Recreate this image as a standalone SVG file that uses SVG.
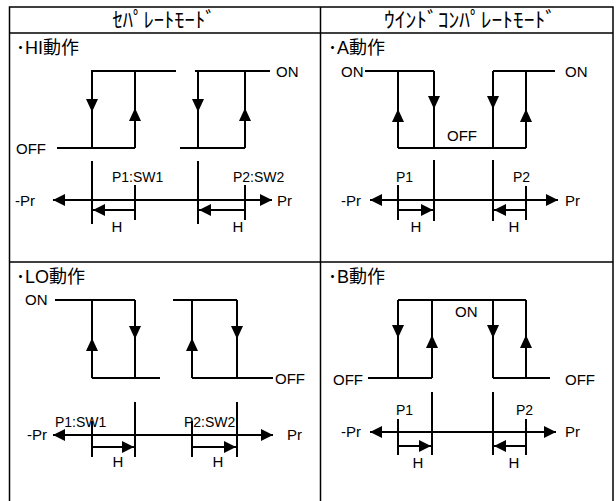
<svg xmlns="http://www.w3.org/2000/svg" xmlns:xlink="http://www.w3.org/1999/xlink" width="616" height="501" viewBox="0 0 616 501">
<style>
.bg{fill:#fff}
.tbl{fill:none;stroke:#000;stroke-width:1.5}
.ln{fill:none;stroke:#000;stroke-width:2}
.hd{font-family:"Noto Sans CJK JP",sans-serif;font-size:21px;fill:#000}
.ttl{font-family:"Liberation Sans","Noto Sans CJK JP",sans-serif;font-size:18px;fill:#000}
.lb{font-family:"Liberation Sans",Arial,sans-serif;font-size:15px;fill:#000}
.pl{font-family:"Liberation Sans",Arial,sans-serif;font-size:14px;fill:#000}
.c{text-anchor:middle}
</style>
<defs>
<marker id="ah" viewBox="0 0 12 12" refX="12" refY="6" markerWidth="12" markerHeight="12" markerUnits="userSpaceOnUse" orient="auto-start-reverse"><path d="M0,0 L12,6 L0,12 Z" fill="#000"/></marker>
<path id="dn" d="M-6,-13 L6,-13 L0,0 Z" fill="#000"/>
<path id="up" d="M-6,13 L6,13 L0,0 Z" fill="#000"/>
</defs>
<rect class="bg" x="0" y="0" width="616" height="501"/>
<g id="table">
<path class="tbl" d="M9.5,510 V7 H613 V510 M9.5,33 H613 M9.5,262 H613 M320.5,7 V510"/>
<text class="hd c" x="164" y="27" textLength="103" lengthAdjust="spacingAndGlyphs">ｾﾊﾟﾚｰﾄﾓｰﾄﾞ</text>
<text class="hd c" x="470" y="27" textLength="172" lengthAdjust="spacingAndGlyphs">ｳｲﾝﾄﾞｺﾝﾊﾟﾚｰﾄﾓｰﾄﾞ</text>
</g>
<g id="hi">
<text class="ttl" x="16" y="54">･HI動作</text>
<path class="ln" d="M91,71 H176 M92,71 V148 M135,71 V148 M57,148 H135 M195,71 H270 M198,71 V148 M245,71 V148 M180,148 H245"/>
<use xlink:href="#dn" x="92" y="112"/><use xlink:href="#up" x="135" y="108"/>
<use xlink:href="#dn" x="198" y="112"/><use xlink:href="#up" x="245" y="108"/>
<path class="ln" d="M53,200 H272" marker-start="url(#ah)" marker-end="url(#ah)"/>
<path class="ln" d="M92,161 V224 M135,185 V220 M198,161 V224 M245,185 V220"/>
<path class="ln" d="M135,210 H93" marker-end="url(#ah)"/>
<path class="ln" d="M245,210 H199" marker-end="url(#ah)"/>
<text class="lb" x="276" y="77">ON</text>
<text class="lb" x="16" y="154">OFF</text>
<text class="lb" x="15" y="206">-Pr</text>
<text class="lb" x="277" y="206">Pr</text>
<text class="pl" x="112" y="182">P1:SW1</text>
<text class="pl" x="233" y="182">P2:SW2</text>
<text class="lb c" x="117" y="232">H</text>
<text class="lb c" x="238" y="232">H</text>
</g>
<g id="a">
<text class="ttl" x="328" y="54">･A動作</text>
<path class="ln" d="M365,71 H434 M398,71 V148 M434,71 V148 M398,148 H526 M493,71 V148 M526,71 V148 M493,71 H555"/>
<use xlink:href="#up" x="398" y="109"/><use xlink:href="#dn" x="434" y="109"/>
<use xlink:href="#dn" x="493" y="109"/><use xlink:href="#up" x="526" y="109"/>
<path class="ln" d="M370,200 H558" marker-start="url(#ah)" marker-end="url(#ah)"/>
<path class="ln" d="M398,185 V220 M434,160 V221 M493,160 V221 M526,186 V220"/>
<path class="ln" d="M398,210 H433" marker-end="url(#ah)"/>
<path class="ln" d="M526,210 H494" marker-end="url(#ah)"/>
<text class="lb" x="341" y="77">ON</text>
<text class="lb" x="565" y="77">ON</text>
<text class="lb" x="447" y="141">OFF</text>
<text class="lb" x="341" y="206">-Pr</text>
<text class="lb" x="565" y="206">Pr</text>
<text class="pl" x="396" y="182">P1</text>
<text class="pl" x="513" y="182">P2</text>
<text class="lb c" x="416" y="232">H</text>
<text class="lb c" x="514" y="232">H</text>
</g>
<g id="lo">
<text class="ttl" x="16" y="283">･LO動作</text>
<path class="ln" d="M55,300 H135 M92,300 V378 M135,300 V378 M92,378 H160 M173,300 H237 M192,300 V378 M237,300 V378 M192,378 H273"/>
<use xlink:href="#up" x="92" y="338"/><use xlink:href="#dn" x="135" y="339"/>
<use xlink:href="#up" x="192" y="338"/><use xlink:href="#dn" x="237" y="339"/>
<path class="ln" d="M53,435 H273" marker-start="url(#ah)" marker-end="url(#ah)"/>
<path class="ln" d="M92,421 V457 M135,402 V457 M192,421 V457 M237,402 V457"/>
<path class="ln" d="M92,447 H134" marker-end="url(#ah)"/>
<path class="ln" d="M192,447 H236" marker-end="url(#ah)"/>
<text class="lb" x="25" y="305">ON</text>
<text class="lb" x="275" y="384">OFF</text>
<text class="lb" x="27" y="440">-Pr</text>
<text class="lb" x="287" y="440">Pr</text>
<text class="pl" x="55" y="427">P1:SW1</text>
<text class="pl" x="184" y="427">P2:SW2</text>
<text class="lb c" x="118" y="467">H</text>
<text class="lb c" x="218" y="467">H</text>
</g>
<g id="b">
<text class="ttl" x="328" y="283">･B動作</text>
<path class="ln" d="M398,300 H526 M398,300 V378 M432,300 V378 M368,378 H432 M493,300 V378 M526,300 V378 M493,378 H550"/>
<use xlink:href="#dn" x="398" y="338"/><use xlink:href="#up" x="432" y="335"/>
<use xlink:href="#dn" x="493" y="338"/><use xlink:href="#up" x="526" y="335"/>
<path class="ln" d="M370,432 H556" marker-start="url(#ah)" marker-end="url(#ah)"/>
<path class="ln" d="M398,419 V455 M432,392 V455 M493,392 V455 M526,419 V455"/>
<path class="ln" d="M398,446 H431" marker-end="url(#ah)"/>
<path class="ln" d="M526,446 H494" marker-end="url(#ah)"/>
<text class="lb" x="455" y="317">ON</text>
<text class="lb" x="333" y="385">OFF</text>
<text class="lb" x="565" y="385">OFF</text>
<text class="lb" x="341" y="437">-Pr</text>
<text class="lb" x="565" y="437">Pr</text>
<text class="pl" x="396" y="415">P1</text>
<text class="pl" x="516" y="415">P2</text>
<text class="lb c" x="418" y="468">H</text>
<text class="lb c" x="514" y="468">H</text>
</g>
</svg>
